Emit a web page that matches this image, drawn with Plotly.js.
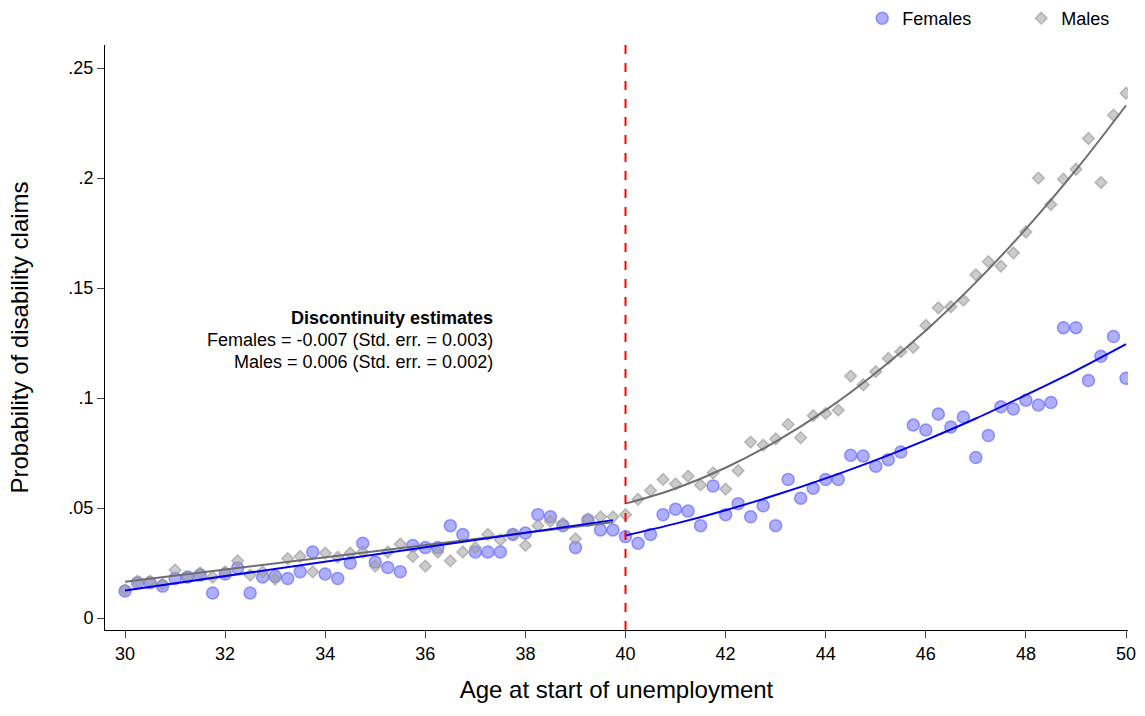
<!DOCTYPE html>
<html><head><meta charset="utf-8">
<script src="https://cdn.plot.ly/plotly-3.0.1.min.js"></script>
<style>body{margin:0}#c{width:1145px;height:716px}</style></head>
<body><div id="c"></div>
<script>
var ages = [];
for (var i = 0; i <= 80; i++) ages.push(30 + i * 0.25);
var females = [.0123,.016,.016,.0145,.018,.0186,.0195,.0114,.020,.0227,.0114,.0186,.019,.018,.021,.030,.020,.018,.025,.034,.0255,.023,.021,.033,.032,.032,.042,.038,.030,.030,.030,.038,.0386,.047,.046,.042,.032,.0445,.040,.040,
.037,.034,.038,.047,.0495,.0486,.042,.060,.047,.052,.046,.051,.042,.063,.0545,.059,.063,.063,.074,.0736,.069,.072,.0755,.0877,.0855,.0927,.0868,.0914,.073,.083,.096,.095,.099,.0968,.098,.132,.132,.108,.119,.128,.109];
var males = [.0127,.0168,.0168,.0155,.0218,.0186,.0205,.0186,.021,.026,.0195,.021,.0177,.027,.028,.021,.0295,.0277,.0295,.030,.0236,.030,.0336,.028,.0236,.030,.026,.030,.032,.038,.0355,.038,.033,.042,.044,.043,.036,.045,.046,.046,
.047,.054,.058,.063,.061,.0645,.0605,.066,.0586,.067,.080,.0786,.0814,.088,.082,.092,.093,.0945,.110,.106,.112,.118,.121,.123,.133,.141,.1415,.1445,.156,.162,.160,.166,.1755,.200,.188,.1995,.204,.218,.198,.2286,.2386];
var fitLeftX = [30, 39.75];
var fitLeftF = [.0125, .0445];
var fitLeftM = [.0165, .0435];
var fitRightX = [40,41,42,43,44,45,46,47,48,49,50];
var fitRightF = [.0375,.0429,.0490,.0559,.0635,.0718,.0809,.0907,.1014,.1125,.1245];
var fitRightM = [.052,.0589,.0683,.0802,.0945,.1114,.1307,.1526,.1769,.2037,.233];
var xticks = [30,32,34,36,38,40,42,44,46,48,50];
var yticks = [0,.05,.1,.15,.2,.25];
var yticklabels = ['0','.05','.1','.15','.2','.25'];

var F = 'Arial, Liberation Sans, sans-serif';
var data = [
 {x: ages, y: females, mode:'markers', name:'Females', type:'scatter',
  marker:{symbol:'circle', size:12, color:'rgba(110,110,255,0.55)', line:{color:'rgba(90,90,255,0.6)', width:1.5}}},
 {x: ages, y: males, mode:'markers', name:'Males', type:'scatter',
  marker:{symbol:'diamond', size:9, color:'rgba(160,160,160,0.55)', line:{color:'rgba(150,150,150,0.6)', width:1.5}}},
 {x: fitLeftX, y: fitLeftM, mode:'lines', showlegend:false, line:{color:'#6e6e6e', width:2}},
 {x: fitLeftX, y: fitLeftF, mode:'lines', showlegend:false, line:{color:'#0000ee', width:2}},
 {x: fitRightX, y: fitRightM, mode:'lines', showlegend:false, line:{color:'#6e6e6e', width:2, shape:'spline'}},
 {x: fitRightX, y: fitRightF, mode:'lines', showlegend:false, line:{color:'#0000ee', width:2, shape:'spline'}}
];
var layout = {
 width:1145, height:716, margin:{l:105, r:17, t:45, b:86},
 paper_bgcolor:'white', plot_bgcolor:'white',
 font:{family:F, size:18, color:'#000'},
 xaxis:{range:[29.6,50.04], tickvals:xticks, ticks:'outside', ticklen:7, showgrid:false, zeroline:false,
   showline:true, linecolor:'#000', linewidth:1, tickfont:{size:18},
   title:{text:'Age at start of unemployment', font:{size:24}, standoff:18}},
 yaxis:{range:[-0.00545,0.2605], tickvals:yticks, ticktext:yticklabels, ticks:'outside', ticklen:7, showgrid:false, zeroline:false,
   showline:true, linecolor:'#000', linewidth:1, tickfont:{size:18},
   title:{text:'Probability of disability claims', font:{size:24}, standoff:32}},
 legend:{orientation:'h', x:0.753, xanchor:'left', xref:'container', yref:'container', y:1, yanchor:'top', font:{size:18}, itemwidth:30, entrywidth:114},
 shapes:[{type:'line', xref:'x', yref:'paper', x0:40, x1:40, y0:0, y1:1.008, line:{color:'#ff0000', width:2, dash:'dash'}}],
 annotations:[
  {xref:'x', yref:'y', x:37.4, y:.1365, text:'<b>Discontinuity estimates</b>', showarrow:false, xanchor:'right', font:{size:18}},
  {xref:'x', yref:'y', x:37.4, y:.1265, text:'Females = -0.007 (Std. err. = 0.003)', showarrow:false, xanchor:'right', font:{size:18}},
  {xref:'x', yref:'y', x:37.4, y:.1165, text:'Males = 0.006 (Std. err. = 0.002)', showarrow:false, xanchor:'right', font:{size:18}}
 ]
};
Plotly.newPlot('c', data, layout, {displayModeBar:false});
</script></body></html>
